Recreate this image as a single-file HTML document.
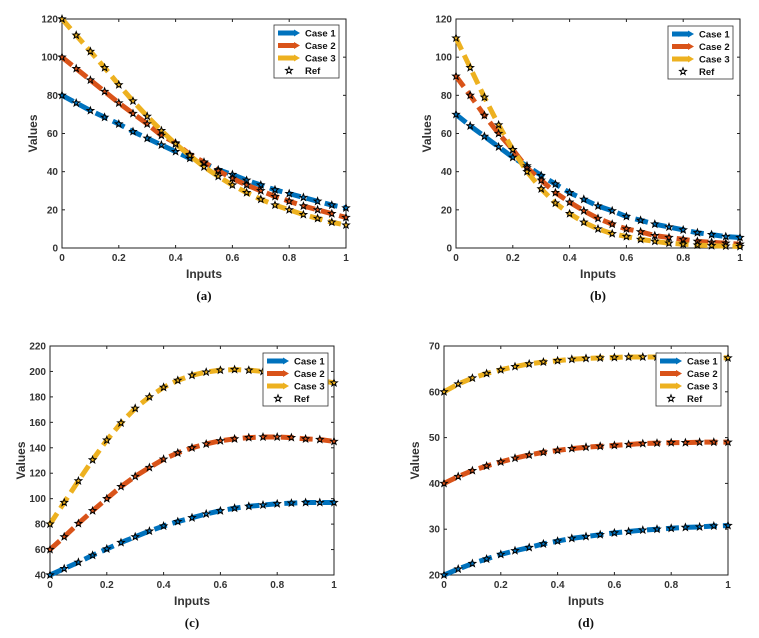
<!DOCTYPE html>
<html><head><meta charset="utf-8"><style>
body{margin:0;background:#fff;}
svg{display:block;font-family:"Liberation Sans",sans-serif;}
</style></head><body>
<svg id="fig" width="759" height="638"></svg>
<script>
const xs=[0,0.05,0.1,0.15,0.2,0.25,0.3,0.35,0.4,0.45,0.5,0.55,0.6,0.65,0.7,0.75,0.8,0.85,0.9,0.95,1];
const xTicks=[0,0.2,0.4,0.6,0.8,1];
const xTickLabels=["0","0.2","0.4","0.6","0.8","1"];
const seriesNames=["Case 1","Case 2","Case 3"];
const colors=["#0072BD","#D95319","#EDB120"];
const aCase1=[80,76,72,68.5,65,61,57.5,54,50.5,47,44.5,41,38.5,35.5,33,30.5,28.5,26.5,24.5,22.5,21];
const aCase2=[100,94,88,82,76,70.5,65,59,55,49,45,40.5,36.5,33,30,27,24.5,22,20,18,16];
const aCase3=[120,111.5,103,94.5,85.5,77,69,61.5,54.5,48.5,42.5,37.5,33,29,25.5,22.5,20,17.5,15.5,13.5,12];
const aTicks=[0,20,40,60,80,100,120];
const bCase1=[70,64,58.5,53,47.5,43,38,33.5,29,25.5,22,19.5,16.5,14.5,12.5,11,9.5,8,7,6,5.5];
const bCase2=[90,80,69.5,60,51.5,42,35.5,29,24,19.5,15.5,12.5,10,8.5,6.5,5.5,4.5,3.5,3,2.5,2];
const bCase3=[110,94.5,79,64.5,51.5,40,31,23.5,18,13.5,10,7.5,6,4.5,3.5,2.5,2,1.5,1.2,1,0.8];
const bTicks=[0,20,40,60,80,100,120];
const cCase1=[40,45,50,55.5,60.5,65.5,70,74.5,78.5,82,85,88,90.5,92.5,94,95,96,96.5,97,97,97];
const cCase2=[60,70,80.5,90.5,100,109.5,117.5,124.5,131,136,140,143,145.5,147,148,148.5,148.5,148,147,146.5,145];
const cCase3=[80,97,114,130.5,146,159.5,171,180,187.5,193,197,199.5,201,201.5,201,200,198.5,197,195,193,191];
const cTicks=[40,60,80,100,120,140,160,180,200,220];
const dCase1=[20,21.3,22.5,23.5,24.5,25.3,26,26.8,27.4,28,28.4,28.8,29.2,29.5,29.8,30,30.2,30.4,30.5,30.7,30.8];
const dCase2=[40,41.5,42.8,43.8,44.7,45.5,46.2,46.8,47.2,47.6,47.9,48.1,48.3,48.5,48.7,48.8,48.9,48.9,49,49,49];
const dCase3=[60,61.7,63,64,64.8,65.5,66.1,66.5,66.8,67.1,67.3,67.4,67.5,67.6,67.6,67.6,67.6,67.6,67.6,67.5,67.4];
const dTicks=[20,30,40,50,60,70];

const NS="http://www.w3.org/2000/svg";
const fig=document.getElementById('fig');
function mk(tag,attrs,parent,text){const e=document.createElementNS(NS,tag);for(const k in attrs)e.setAttribute(k,attrs[k]);if(text!==undefined)e.textContent=text;(parent||fig).appendChild(e);return e;}
function starPts(cx,cy,r){let p=[];for(let i=0;i<10;i++){const a=-Math.PI/2+i*Math.PI/5;const rr=i%2?r*0.42:r;p.push((cx+rr*Math.cos(a)).toFixed(1)+','+(cy+rr*Math.sin(a)).toFixed(1));}return p.join(' ');}

function panel(id,L,R,T,B,yTicks,series,label,leg){
  const g=mk('g',{});
  
  
  const y0=yTicks[0],y1=yTicks[yTicks.length-1];
  const X=v=>L+v*(R-L), Y=v=>B-(v-y0)/(y1-y0)*(B-T);
  const box=mk('rect',{x:L,y:T,width:R-L,height:B-T,fill:'none',stroke:'#222','stroke-width':1},g);
  
  
  xTicks.forEach((t,i)=>{
    mk('line',{x1:X(t),x2:X(t),y1:B,y2:B-3,stroke:'#222'},g);
    mk('line',{x1:X(t),x2:X(t),y1:T,y2:T+3,stroke:'#222'},g);
    const tx=mk('text',{x:X(t),y:B+13,'text-anchor':'middle','font-size':10,'font-weight':'bold',fill:'#333'},g,xTickLabels[i]);
    
    
  });
  yTicks.forEach(t=>{
    mk('line',{x1:L,x2:L+3,y1:Y(t),y2:Y(t),stroke:'#222'},g);
    mk('line',{x1:R,x2:R-3,y1:Y(t),y2:Y(t),stroke:'#222'},g);
    const ty=mk('text',{x:L-4,y:Y(t)+3.5,'text-anchor':'end','font-size':10,'font-weight':'bold',fill:'#333'},g,String(t));
    
    
  });
  const xl=mk('text',{x:(L+R)/2,y:B+30,'text-anchor':'middle','font-size':12,'font-weight':'bold',fill:'#333'},g,'Inputs');
  
  
  const yl=mk('text',{x:0,y:0,'text-anchor':'middle','font-size':12,'font-weight':'bold',fill:'#333',transform:`translate(${L-25},${(T+B)/2}) rotate(-90)`},g,'Values');
  
  
  const cap=mk('text',{x:(L+R)/2,y:B+52,'text-anchor':'middle','font-size':13,'font-weight':'bold','font-family':'Liberation Serif, serif',fill:'#111'},g,label);
  
  
  series.forEach((s,k)=>{
    const pl=mk('polyline',{points:xs.map((x,i)=>X(x)+','+Y(s[i])).join(' '),fill:'none',stroke:colors[k],'stroke-width':5,'stroke-dasharray':'13,6'},g);
    
    
  });
  series.forEach((s,k)=>{
    xs.forEach((x,i)=>{
      const st=mk('polygon',{points:starPts(X(x),Y(s[i]),3.6),fill:colors[k],stroke:'#000','stroke-width':1},g);
      
      
    });
  });
  const lg=mk('g',{},g);
  
  
  mk('rect',{x:leg[0],y:leg[1],width:65,height:53,fill:'#fff',stroke:'#333','stroke-width':0.8},lg);
  seriesNames.concat(['Ref']).forEach((n,k)=>{
    const yy=leg[1]+8+k*12.5;
    if(k<3){mk('line',{x1:leg[0]+4,x2:leg[0]+22,y1:yy,y2:yy,stroke:colors[k],'stroke-width':5},lg);
      mk('polygon',{points:`${leg[0]+20},${yy-3.5} ${leg[0]+26},${yy} ${leg[0]+20},${yy+3.5}`,fill:colors[k]},lg);}
    else mk('polygon',{points:starPts(leg[0]+15,yy,3.6),fill:'none',stroke:'#000','stroke-width':1},lg);
    const t=mk('text',{x:leg[0]+31,y:yy+3.5,'font-size':9.5,'font-weight':'bold',fill:'#111'},lg,n);
    
    
  });
}
panel('a',62,346,19,248,aTicks,[aCase1,aCase2,aCase3],'(a)',[274,25]);
panel('b',456,740,19,248,bTicks,[bCase1,bCase2,bCase3],'(b)',[668,26]);
panel('c',50,334,346,575,cTicks,[cCase1,cCase2,cCase3],'(c)',[263,353]);
panel('d',444,728,346,575,dTicks,[dCase1,dCase2,dCase3],'(d)',[656,353]);
</script>
</body></html>
